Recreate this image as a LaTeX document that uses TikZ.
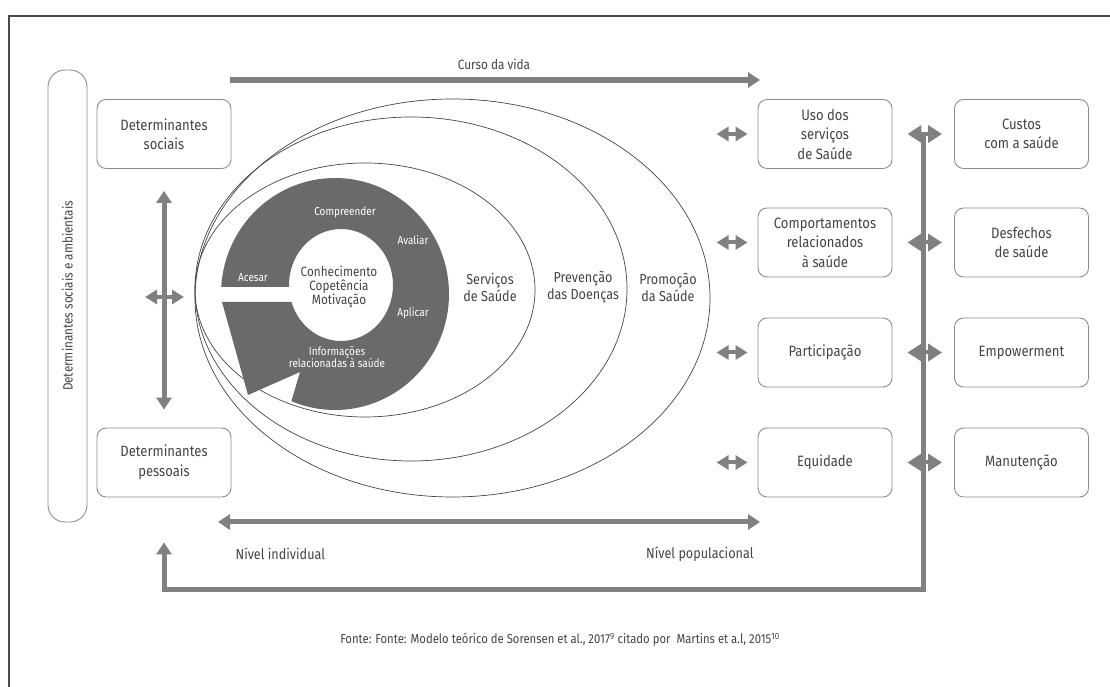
\documentclass[tikz,border=0pt]{standalone}
\usepackage{fontspec}
\setmainfont{Fira Sans}[FakeStretch=0.87]
\usetikzlibrary{arrows.meta}
\definecolor{arrgray}{HTML}{808080}
\definecolor{boxgray}{HTML}{8C8C8C}
\definecolor{ringgray}{HTML}{6A6A6A}
\definecolor{txtgray}{HTML}{444444}
\definecolor{framegray}{HTML}{4A4A4A}
\tikzset{
  detbox/.style={draw=boxgray, line width=0.9pt, rounded corners=9pt,
    minimum width=134pt, minimum height=69pt, align=center, text=txtgray,
    font=\fontsize{15}{19.5}\selectfont, inner sep=2pt},
  arrlong/.style={draw=arrgray, line width=5pt, -{Triangle[width=15pt,length=12pt]}},
  arrboth/.style={draw=arrgray, line width=5pt,
    {Triangle[width=15pt,length=12pt]}-{Triangle[width=15pt,length=12pt]}},
  arrtwin/.style={draw=arrgray, line width=4pt,
    {Triangle[width=14pt,length=12pt]}-{Triangle[width=14pt,length=12pt]}},
  ovline/.style={draw=txtgray, line width=0.7pt},
  ringlbl/.style={text=white, font=\fontsize{11.5}{12.5}\selectfont, align=center},
  ovlbl/.style={text=txtgray, font=\fontsize{14.5}{17}\selectfont, align=center},
  plainlbl/.style={text=txtgray, font=\fontsize{14.5}{16}\selectfont},
}
\begin{document}
\begin{tikzpicture}[x=1pt,y=1pt]
\useasboundingbox (0,0) rectangle (1110,687);
% frame
\draw[framegray, line width=2.2pt] (9,-5) -- (9,671) -- (1115,671);
% social and environmental bar
\node[detbox, rotate=90, minimum width=452pt, minimum height=39pt,
  rounded corners=17pt, font=\fontsize{13.5}{15}\selectfont] (envbar) at (67.5,391)
  {Determinantes sociais e ambientais};
% nested ellipses
\draw[ovline] (452.5,389) ellipse [x radius=257.5, y radius=199];
\draw[ovline] (411,398) ellipse [x radius=216, y radius=172];
\draw[ovline] (365,397) ellipse [x radius=170, y radius=127];
\node[ovlbl] (serv) at (490,400) {Serviços\\de Saúde};
\node[ovlbl] (prev) at (583,400) {Prevenção\\das Doenças};
\node[ovlbl] (prom) at (668,400) {Promoção\\da Saúde};
% ring
\fill[ringgray] ([shift={(335,393)}]176.5:114 and 116)
  arc[start angle=176.5, end angle=-112.5, x radius=114, y radius=116]
  -- (300,315) -- (248,292) -- (222,385)
  -- ([shift={(341,402)}]197.67:52 and 56)
  arc[start angle=197.67, end angle=542.05, x radius=52, y radius=56] -- cycle;
\node[ringlbl] (compr) at (345,475) {Compreender};
\node[ringlbl] (aval) at (413,447) {Avaliar};
\node[ringlbl] (aces) at (253,409) {Acesar};
\node[ringlbl] (apli) at (413,374) {Aplicar};
\node[ringlbl] (info) at (337,330) {Informações\\relacionadas à saúde};
\node[text=txtgray, align=center, font=\fontsize{13.5}{14}\selectfont] (core) at (339,400)
  {Conhecimento\\Copetência\\Motivação};
% boxes
\node[detbox] (dsoc) at (164,553) {Determinantes\\sociais};
\node[detbox] (dpes) at (164,224.5) {Determinantes\\pessoais};
\node[detbox] (uso) at (825,553) {Uso dos\\serviços\\de Saúde};
\node[detbox] (comp) at (825,444.5) {Comportamentos\\relacionados\\à saúde};
\node[detbox] (part) at (825,334.5) {Participação};
\node[detbox] (equi) at (825,224.5) {Equidade};
\node[detbox] (cust) at (1021.5,553) {Custos\\com a saúde};
\node[detbox] (desf) at (1021.5,444.5) {Desfechos\\de saúde};
\node[detbox] (empo) at (1021.5,334.5) {Empowerment};
\node[detbox] (manu) at (1021.5,224.5) {Manutenção};
% life course
\coordinate (cvs) at (230,607);
\coordinate (cve) at (760,607);
\draw[arrlong, line width=6pt] (cvs) -- (cve);
\node[plainlbl, font=\fontsize{13.5}{15}\selectfont] (curso) at (494,623) {Curso da vida};
% individual / population level
\coordinate (nis) at (218,165);
\coordinate (nie) at (760,165);
\draw[arrboth] (nis) -- (nie);
\node[plainlbl, anchor=west] (nind) at (232,133) {Nível individual};
\node[plainlbl, anchor=east] (npop) at (757,133) {Nível populacional};
% determinants
\draw[arrboth, shorten <=22pt, shorten >=18pt] (dsoc) -- (dpes);
\coordinate (hl) at (145,390);
\coordinate (hr) at (184,390);
\draw[arrtwin] (hl) -- (hr);
% feedback loop
\coordinate (lt) at (923,553);
\coordinate (lb) at (923,97);
\draw[arrlong, shorten >=45pt] (lt) -- (lb) -| (dpes.south);
% row arrows
\foreach \b in {uso,comp,part,equi}{
  \coordinate (l\b) at ([xshift=-41pt]\b.west);
  \draw[arrtwin, shorten >=10pt] (l\b) -- (\b);
}
\foreach \a/\b in {uso/cust,comp/desf,part/empo,equi/manu}
  \draw[arrtwin, {Triangle[width=17pt,length=14pt]}-{Triangle[width=17pt,length=14pt]},
    shorten <=15pt, shorten >=12pt] (\a) -- (\b);
% source
\node[plainlbl, font=\fontsize{13}{15}\selectfont] (fonte) at (560,47)
  {Fonte: Fonte: Modelo teórico de Sorensen et al., 2017\textsuperscript{9} citado por~ Martins et a.l, 2015\textsuperscript{10}};
\end{tikzpicture}
\end{document}
